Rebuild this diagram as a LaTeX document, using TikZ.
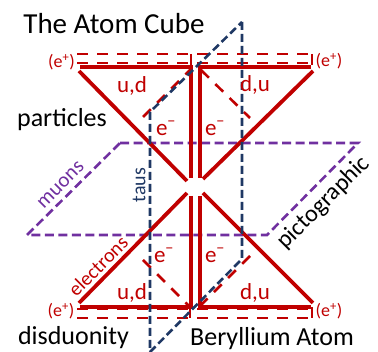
\documentclass[tikz,border=0pt]{standalone}
\usepackage{fontspec}
\setmainfont{Carlito}
\definecolor{cred}{HTML}{C00000}
\definecolor{cblue}{HTML}{1F3864}
\definecolor{cpurple}{HTML}{7030A0}
\tikzset{
  solidred/.style={draw=cred,line width=3.8pt},
  dashred/.style={draw=cred,line width=2.6pt,dash pattern=on 11pt off 9pt},
  dashblue/.style={draw=cblue,line width=2.6pt,dash pattern=on 8pt off 4pt},
  dashpurple/.style={draw=cpurple,line width=2.6pt,dash pattern=on 9pt off 4.5pt},
  blacktext/.style={text=black,font=\fontsize{26}{28}\selectfont,inner sep=0pt},
  redlabel/.style={text=cred,font=\fontsize{23}{25}\selectfont,inner sep=0pt},
  poslabel/.style={text=cred,font=\fontsize{18}{20}\selectfont,inner sep=0pt},
}
\begin{document}
\begin{tikzpicture}[x=1pt,y=-1pt]
\useasboundingbox (0,0) rectangle (378,352);
% purple plane
\coordinate (p1) at (120,143); \coordinate (p2) at (358,143);
\coordinate (p3) at (267,235); \coordinate (p4) at (27,235);
\draw[dashpurple] (p1) -- (p2) -- (p3) -- (p4) -- cycle;
% blue plane
\coordinate (b1) at (242,22); \coordinate (b2) at (242,259);
\coordinate (b3) at (150,352); \coordinate (b4) at (150,112);
% red dashed
\coordinate (tl1) at (77,54); \coordinate (tr1) at (310,54);
\coordinate (tl2) at (77,63); \coordinate (tr2) at (310,63);
\coordinate (bl1) at (77,318); \coordinate (br1) at (308,318);
\coordinate (bl2) at (77,309); \coordinate (br2) at (308,309);
\draw[dashred] (tl1) -- (tr1);
\draw[dashred] (tl2) -- (tr2);
\draw[dashred] (bl1) -- (br1);
\draw[dashred] (bl2) -- (br2);
\coordinate (t1) at (191,54); \coordinate (t2) at (191,65);
\coordinate (t3) at (312,54); \coordinate (t4) at (312,65);
\coordinate (t5) at (312,307); \coordinate (t6) at (312,318);
\coordinate (t7) at (190,307); \coordinate (t8) at (190,318);
\draw[cred,line width=1.5pt] (t1) -- (t2) (t3) -- (t4) (t5) -- (t6) (t7) -- (t8);
\coordinate (d1) at (143,117); \coordinate (d2) at (191,69);
\coordinate (d3) at (201,70); \coordinate (d4) at (250,118);
\coordinate (d5) at (143,260); \coordinate (d6) at (189,306);
\coordinate (d7) at (250,256); \coordinate (d8) at (201,305);
\draw[dashred] (d1) -- (d2);
\draw[dashred] (d3) -- (d4);
\draw[dashred] (d5) -- (d6);
\draw[dashred] (d7) -- (d8);
% solid red
\coordinate (a1) at (80,67); \coordinate (a2) at (193,67);
\coordinate (a3) at (198,67); \coordinate (a4) at (311,67);
\coordinate (a5) at (80,307); \coordinate (a6) at (193,307);
\coordinate (a7) at (198,307); \coordinate (a8) at (311,307);
\draw[solidred] (a1) -- (a2);
\draw[solidred] (a3) -- (a4);
\draw[solidred] (a5) -- (a6);
\draw[solidred] (a7) -- (a8);
\coordinate (v1) at (191,67); \coordinate (v2) at (191,178);
\coordinate (v3) at (200,67); \coordinate (v4) at (200,178);
\coordinate (v5) at (191,196); \coordinate (v6) at (191,307);
\coordinate (v7) at (200,196); \coordinate (v8) at (200,309);
\draw[solidred] (v1) -- (v2);
\draw[solidred] (v3) -- (v4);
\draw[solidred] (v5) -- (v6);
\draw[solidred] (v7) -- (v8);
\coordinate (x1) at (79,71); \coordinate (x2) at (187,181);
\coordinate (x3) at (313,71); \coordinate (x4) at (203,179);
\coordinate (x5) at (79,303); \coordinate (x6) at (187,193);
\coordinate (x7) at (313,303); \coordinate (x8) at (203,193);
\draw[solidred] (x1) -- (x2);
\draw[solidred] (x3) -- (x4);
\draw[solidred] (x5) -- (x6);
\draw[solidred] (x7) -- (x8);
% blue on top
\draw[dashblue] (b1) -- (b2) -- (b3) -- (b4) -- cycle;
% texts
\node[blacktext,font=\fontsize{29}{31}\selectfont] (title) at (114,24) {The Atom Cube};
\node[blacktext] (particles) at (62,120) {particles};
\node[blacktext] (disd) at (73.5,338) {disduonity};
\node[blacktext] (bery) at (272,339) {Beryllium Atom};
\node[blacktext,rotate=45,font=\fontsize{24}{26}\selectfont] (pict) at (324,203) {pictographic};
\node[text=cpurple,rotate=45,inner sep=0pt,font=\fontsize{21}{23}\selectfont] (muons) at (61,185) {muons};
\node[text=cblue,rotate=90,inner sep=0pt,font=\fontsize{20}{22}\selectfont] (taus) at (139,185) {taus};
\node[text=cred,rotate=45,inner sep=0pt,font=\fontsize{20}{22}\selectfont] (elec) at (98,266) {electrons};
\node[redlabel] (ud1) at (132,86) {u,d};
\node[redlabel] (du1) at (255,85) {d,u};
\node[redlabel] (ud2) at (132,293) {u,d};
\node[redlabel] (du2) at (255,293) {d,u};
\node[redlabel] (e1) at (166,128) {e\textsuperscript{−}};
\node[redlabel] (e2) at (215,128) {e\textsuperscript{−}};
\node[redlabel] (e3) at (164,255) {e\textsuperscript{−}};
\node[redlabel] (e4) at (215,255) {e\textsuperscript{−}};
\node[poslabel] (q1) at (61.5,62) {(e\textsuperscript{+})};
\node[poslabel] (q2) at (329,61) {(e\textsuperscript{+})};
\node[poslabel] (q3) at (61,311) {(e\textsuperscript{+})};
\node[poslabel] (q4) at (329,311) {(e\textsuperscript{+})};
\end{tikzpicture}
\end{document}
